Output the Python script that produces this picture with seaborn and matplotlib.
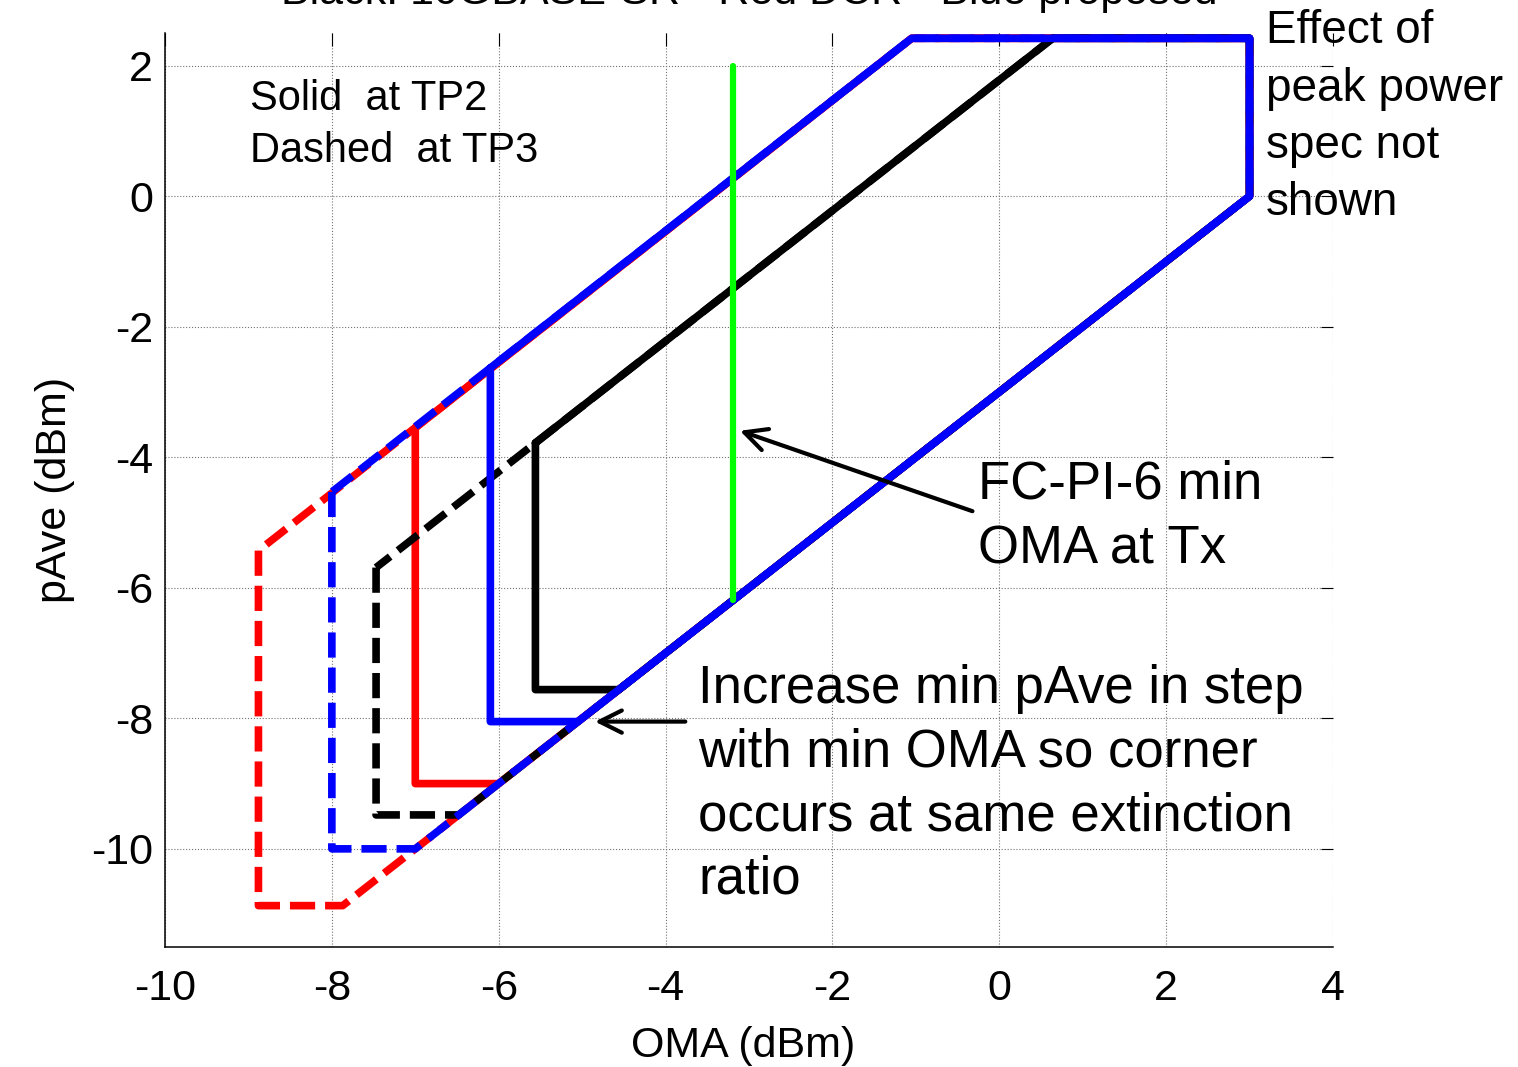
import matplotlib
matplotlib.use("Agg")
import matplotlib.pyplot as plt
import seaborn as sns

# ---------------------------------------------------------------------------
# Mask outlines: OMA (dBm) vs average power (dBm)
# ---------------------------------------------------------------------------
red_dashed_oma = [-8.88, -8.88, -7.87, 3.0, 3.0, -1.05, -8.88]
red_dashed_pave = [-5.43, -10.87, -10.87, 0.0, 2.42, 2.42, -5.43]

red_solid_oma = [-7.0, -7.0, -6.0, 3.0, 3.0, -1.05, -7.0]
red_solid_pave = [-3.55, -9.0, -9.0, 0.0, 2.42, 2.42, -3.55]

black_dashed_oma = [-7.47, -7.47, -6.48, 3.0, 3.0, 0.64, -7.47]
black_dashed_pave = [-5.69, -9.48, -9.48, 0.0, 2.42, 2.42, -5.69]

black_solid_oma = [-5.56, -5.56, -4.56, 3.0, 3.0, 0.64, -5.56]
black_solid_pave = [-3.78, -7.56, -7.56, 0.0, 2.42, 2.42, -3.78]

blue_solid_oma = [-6.1, -6.1, -5.05, 3.0, 3.0, -1.05, -6.1]
blue_solid_pave = [-2.63, -8.05, -8.05, 0.0, 2.42, 2.42, -2.63]

blue_dashed_oma = [-8.0, -8.0, -7.0, 3.0, 3.0, -1.05, -8.0]
blue_dashed_pave = [-4.53, -10.0, -10.0, 0.0, 2.42, 2.42, -4.53]

green_oma = [-3.19, -3.19]
green_pave = [-6.19, 2.0]

x_ticks = [-10, -8, -6, -4, -2, 0, 2, 4]
y_ticks = [-10, -8, -6, -4, -2, 0, 2]

sns.set_style("white")
plt.rcParams["font.family"] = ["Liberation Sans", "DejaVu Sans"]
plt.rcParams["axes.unicode_minus"] = False
plt.rcParams["text.color"] = "black"
plt.rcParams["axes.labelcolor"] = "black"

fig = plt.figure(figsize=(15.18, 10.67), dpi=100)
ax = fig.add_axes([0.1087, 0.1127, 0.7694, 0.8563])

DASH = (0, (3.3, 1.3))
series = [
    (red_dashed_oma, red_dashed_pave, "#ff0000", DASH),
    (red_solid_oma, red_solid_pave, "#ff0000", "-"),
    (black_dashed_oma, black_dashed_pave, "#000000", DASH),
    (black_solid_oma, black_solid_pave, "#000000", "-"),
    (blue_solid_oma, blue_solid_pave, "#0000ff", "-"),
    (blue_dashed_oma, blue_dashed_pave, "#0000ff", DASH),
]
for xs, ys, col, ls in series:
    sns.lineplot(x=xs, y=ys, sort=False, estimator=None, color=col,
                 linewidth=5.5, linestyle=ls, ax=ax,
                 solid_joinstyle="round", dash_joinstyle="round",
                 dash_capstyle="butt")

sns.lineplot(x=green_oma, y=green_pave, sort=False, estimator=None,
             color="#00ff00", linewidth=4.5, ax=ax)

ax.set_xlim(-10, 4)
ax.set_ylim(-11.5, 2.5)
ax.set_xticks(x_ticks)
ax.set_yticks(y_ticks)
ax.tick_params(direction="in", length=9, width=0.8, labelsize=31,
               top=True, right=True, colors="black")
ax.tick_params(axis="x", pad=16)
ax.tick_params(axis="y", pad=8.5)
ax.grid(True, linestyle=":", color="0.45", linewidth=0.8)
for side in ["top", "right"]:
    ax.spines[side].set_visible(False)
for side in ["left", "bottom"]:
    ax.spines[side].set_color("black")
    ax.spines[side].set_linewidth(1.1)

ax.set_xlabel("OMA (dBm)", fontsize=31)
ax.xaxis.set_label_coords(0.495, -0.0868)
ax.set_ylabel("pAve (dBm)", fontsize=31)
ax.yaxis.set_label_coords(-0.077, 0.5)
ax.set_title("Black: 10GBASE-SR - Red DCR - Blue proposed", fontsize=31,
             y=1.032, va="baseline", pad=0)

# annotations (y = baseline of the last line)
ax.text(-8.98, 0.52, "Solid  at TP2\nDashed  at TP3", fontsize=30,
        va="baseline", ha="left", linespacing=1.4)
ax.text(3.2, -0.29, "Effect of\npeak power\nspec not\nshown", fontsize=33,
        va="baseline", ha="left", linespacing=1.39)
ax.text(-0.25, -5.62, "FC-PI-6 min\nOMA at Tx", fontsize=38,
        va="baseline", ha="left", linespacing=1.36)
ax.text(-3.61, -10.69,
        "Increase min pAve in step\nwith min OMA so corner\n"
        "occurs at same extinction\nratio",
        fontsize=38, va="baseline", ha="left", linespacing=1.35)

arrow = dict(arrowstyle="->", lw=3, color="black", mutation_scale=40)
ax.annotate("", xy=(-3.14, -3.58), xytext=(-0.29, -4.84), arrowprops=arrow)
ax.annotate("", xy=(-4.88, -8.05), xytext=(-3.73, -8.05), arrowprops=arrow)

fig.savefig("out.png", dpi=100)
